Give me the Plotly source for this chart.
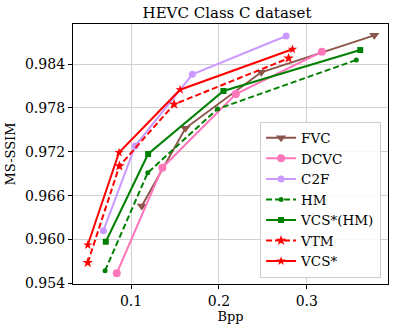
import plotly.graph_objects as go

# HEVC Class C: rate (bpp) vs MS-SSIM
fvc_bpp = [0.1122, 0.1618, 0.2481, 0.3768]
fvc_ssim = [0.96459, 0.97521, 0.98287, 0.98792]

dcvc_bpp = [0.0837, 0.1356, 0.2192, 0.3172]
dcvc_ssim = [0.95540, 0.96983, 0.97990, 0.98568]

c2f_bpp = [0.0685, 0.1046, 0.1698, 0.2765]
c2f_ssim = [0.96122, 0.97279, 0.98259, 0.98783]

hm_bpp = [0.0704, 0.1190, 0.1983, 0.3563]
hm_ssim = [0.95575, 0.96914, 0.97785, 0.98455]

vcs_hm_bpp = [0.0712, 0.1194, 0.2051, 0.3608]
vcs_hm_ssim = [0.95971, 0.97170, 0.98031, 0.98591]

vtm_bpp = [0.0507, 0.0867, 0.1490, 0.2792]
vtm_ssim = [0.95684, 0.97006, 0.97849, 0.98478]

vcs_bpp = [0.0507, 0.0863, 0.1558, 0.2837]
vcs_ssim = [0.95926, 0.97190, 0.98049, 0.98601]

y_ticks = [0.954, 0.960, 0.966, 0.972, 0.978, 0.984]
x_ticks = [0.1, 0.2, 0.3]

series = [
    ("FVC", fvc_bpp, fvc_ssim, "#8c564b", "solid", "triangle-down", 9),
    ("DCVC", dcvc_bpp, dcvc_ssim, "#ff77bb", "solid", "circle", 8),
    ("C2F", c2f_bpp, c2f_ssim, "#cc99ff", "solid", "circle", 7),
    ("HM", hm_bpp, hm_ssim, "green", "6px,3px", "circle", 5),
    ("VCS*(HM)", vcs_hm_bpp, vcs_hm_ssim, "green", "solid", "square", 6),
    ("VTM", vtm_bpp, vtm_ssim, "red", "6px,3px", "star", 8),
    ("VCS*", vcs_bpp, vcs_ssim, "red", "solid", "star", 7),
]

fig = go.Figure()
for name, x, y, color, dash, symbol, size in series:
    fig.add_trace(go.Scatter(
        x=x, y=y, name=name, mode="lines+markers",
        line=dict(color=color, width=2, dash=dash),
        marker=dict(symbol=symbol, size=size, color=color, line=dict(width=0)),
    ))

font = "DejaVu Serif"
fig.update_layout(
    width=395, height=328,
    margin=dict(l=73, r=7, t=24, b=44),
    paper_bgcolor="white", plot_bgcolor="white",
    font=dict(family=font, size=14, color="black"),
    title=dict(text="HEVC Class C dataset", xref="paper", x=0.489, xanchor="center",
               y=0.961, yanchor="middle", font=dict(size=15)),
    legend=dict(
        x=0.978, y=0.025, xanchor="right", yanchor="bottom",
        bgcolor="rgba(255,255,255,0.85)", bordercolor="#cccccc", borderwidth=1,
        font=dict(size=13.5), tracegroupgap=0, itemwidth=30,
    ),
    showlegend=True,
)
fig.update_xaxes(
    range=[0.0339, 0.3924], tickvals=x_ticks, ticktext=["0.1", "0.2", "0.3"],
    showgrid=True, gridcolor="#d0d0d0", gridwidth=1,
    showline=True, linecolor="black", linewidth=1.3, mirror=True,
    ticks="outside", ticklen=4, tickcolor="black", zeroline=False,
    title=dict(text="Bpp", font=dict(size=13), standoff=3),
)
fig.update_yaxes(
    range=[0.95393, 0.98947], tickvals=y_ticks, tickformat=".3f",
    showgrid=True, gridcolor="#d0d0d0", gridwidth=1,
    showline=True, linecolor="black", linewidth=1.3, mirror=True,
    ticks="outside", ticklen=4, tickcolor="black", zeroline=False,
    title=dict(text="MS-SSIM", font=dict(size=13), standoff=6),
)

# drop the default 8px body margin so the figure fills the window
fig.write_html(
    "out.html",
    config={"displayModeBar": False},
    post_script="document.body.style.margin = '0';",
)
